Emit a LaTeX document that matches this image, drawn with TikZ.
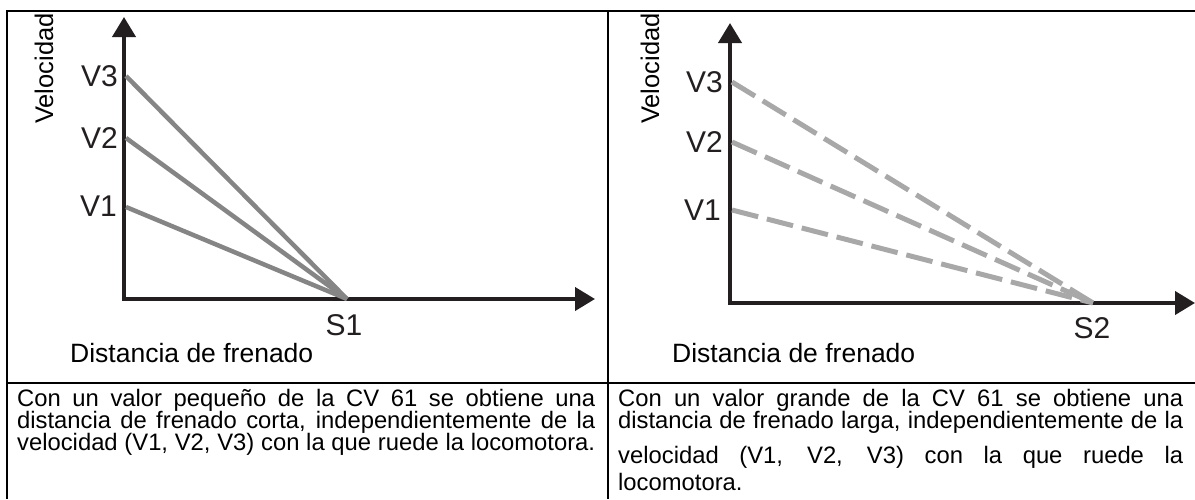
\documentclass[tikz,border=0pt]{standalone}
\usepackage{fontspec}
\setmainfont{Liberation Sans}
\usetikzlibrary{arrows.meta}
\definecolor{axisc}{HTML}{231F20}
\definecolor{solidg}{HTML}{858585}
\definecolor{dashg}{HTML}{A8A8A8}
\begin{document}
\begin{tikzpicture}[x=1pt,y=-1pt,
  tbl/.style={line width=2.5pt, black, line join=miter},
  axisline/.style={line width=4pt, axisc, line join=miter,
    {Triangle[length=20pt,width=23pt]}-{Triangle[length=20pt,width=23pt]}},
  solidline/.style={line width=4.5pt, solidg},
  dashline/.style={line width=5pt, dashg, dash pattern=on 27pt off 9pt},
  vlab/.style={anchor=east, inner sep=0pt, font=\fontsize{30}{36}\selectfont, text=axisc},
  slab/.style={anchor=base, inner sep=0pt, font=\fontsize{30}{36}\selectfont, text=axisc},
  ylab/.style={rotate=90, anchor=base east, inner sep=0pt, font=\fontsize{25.5}{30}\selectfont},
  xlab/.style={anchor=base west, inner sep=0pt, font=\fontsize{26.5}{32}\selectfont},
  body/.style={anchor=base west, inner sep=0pt, font=\fontsize{23.8}{27}\selectfont},
]
\useasboundingbox (0,0) rectangle (1195,499);
\fill[white] (0,0) rectangle (1195,499);

% table
\draw[tbl] (7,499) -- (7,11) -- (1195,11);
\draw[tbl] (608,11) -- (608,499);
\draw[tbl] (7,383) -- (1195,383);

% ---------- left chart ----------
\coordinate (O1) at (124,299);
\coordinate (Y1) at (124,17);
\coordinate (X1) at (595,299);
\coordinate (S1p) at (347,299);
\coordinate (A3) at (126,76);
\coordinate (A2) at (126,138);
\coordinate (A1) at (126,207);
\draw[axisline] (Y1) -- (O1) -- (X1);
\draw[solidline] (A3) -- (S1p);
\draw[solidline] (A2) -- (S1p);
\draw[solidline] (A1) -- (S1p);
\node[vlab] (lv3) at (118,76) {V3};
\node[vlab] (lv2) at (118,138) {V2};
\node[vlab] (lv1) at (117,206) {V1};
\node[slab] (ls1) at (344,335) {S1};
\node[ylab] (lvel) at (53,13) {Velocidad};
\node[xlab] (ldist) at (70,362) {Distancia de frenado};

% ---------- right chart ----------
\coordinate (O2) at (730,303);
\coordinate (Y2) at (730,23);
\coordinate (X2) at (1195,303);
\coordinate (S2p) at (1093,303);
\coordinate (B3) at (732,82);
\coordinate (B2) at (732,142);
\coordinate (B1) at (732,210);
\draw[axisline] (Y2) -- (O2) -- (X2);
\draw[dashline] (B3) -- (S2p);
\draw[dashline] (B2) -- (S2p);
\draw[dashline] (B1) -- (S2p);
\node[vlab] (rv3) at (723,82) {V3};
\node[vlab] (rv2) at (723,142) {V2};
\node[vlab] (rv1) at (721,210) {V1};
\node[slab] (rs2) at (1092,338) {S2};
\node[ylab] (rvel) at (659,13) {Velocidad};
\node[xlab] (rdist) at (672,362) {Distancia de frenado};

% ---------- text cells ----------
\node[body] (l1) at (17,406) {\makebox[578pt][s]{Con un valor pequeño de la CV 61 se obtiene una}};
\node[body] (l2) at (17,428) {\makebox[578pt][s]{distancia de frenado corta, independientemente de la}};
\node[body] (l3) at (17,450) {\makebox[578pt][s]{velocidad (V1, V2, V3) con la que ruede la locomotora.}};
\node[body] (r1) at (618,406) {\makebox[565pt][s]{Con un valor grande de la CV 61 se obtiene una}};
\node[body] (r2) at (618,428) {\makebox[565pt][s]{distancia de frenado larga, independientemente de la}};
\node[body] (r3) at (618,463) {\makebox[565pt][s]{velocidad (V1, V2, V3) con la que ruede la}};
\node[body] (r4) at (618,490) {locomotora.};
\end{tikzpicture}
\end{document}
